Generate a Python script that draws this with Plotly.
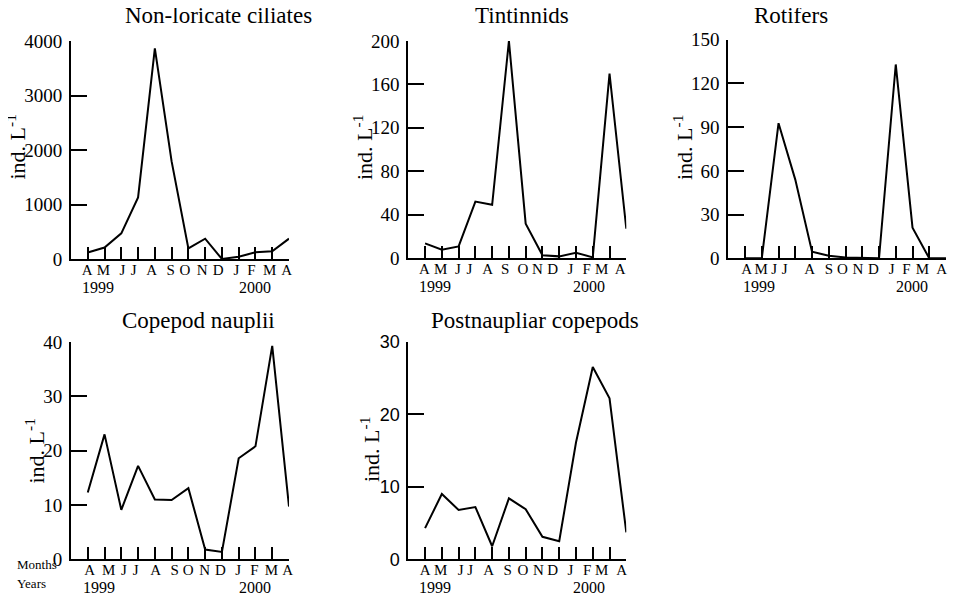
import plotly.graph_objects as go

# ---------------- data ----------------
months = ["A", "M", "J", "J", "A", "S", "O", "N", "D", "J", "F", "M", "A"]
x_idx = list(range(13))
year_labels = ["1999", "2000"]

titles = ["Non-loricate ciliates", "Tintinnids", "Rotifers",
          "Copepod nauplii", "Postnaupliar copepods"]
y_title = "ind. L<sup>-1</sup>"

ciliates = [120, 210, 471, 1131, 3866, 1790, 196, 373, 0, 43, 122, 141, 373]
tintinnids = [13.5, 7.7, 10.7, 52, 49, 200, 31.6, 2.5, 1.5, 4.9, 0.6, 170, 27]
rotifers = [0, 0, 92.7, 54, 4.5, 1.7, 0.5, 0, 0, 133, 21, 0, 0]
nauplii = [12.3, 23, 9.1, 17.2, 11.0, 10.9, 13.1, 1.8, 1.35, 18.6, 20.8, 39.3, 9.7]
postnaupliar = [4.3, 9.0, 6.8, 7.2, 1.8, 8.4, 6.9, 3.1, 2.5, 16.1, 26.5, 22.2, 3.7]

series = [ciliates, tintinnids, rotifers, nauplii, postnaupliar]
y_ticks = [[0, 1000, 2000, 3000, 4000],
           [0, 40, 80, 120, 160, 200],
           [0, 30, 60, 90, 120, 150],
           [0, 10, 20, 30, 40],
           [0, 10, 20, 30]]

# ---------------- layout helpers ----------------
OFF = 8                      # page body margin of the html output
W, H = 962 - OFF, 598 - OFF  # figure size so that it fits the window
SERIF = "Liberation Serif"
SANS = "Liberation Sans"


def px_x(p):
    return (p - OFF) / W


def px_y(p):
    return 1 - (p - OFF) / H


# pixel boxes in window coordinates (left, right, top, bottom)
boxes = [(71, 289, 41, 259),
         (408.3, 626.3, 41, 258),
         (728.3, 946, 39.7, 258.3),
         (71, 289, 342, 559.3),
         (408.3, 626.3, 341.7, 559.3)]
title_pos = [(218, 15), (521.7, 15), (790.8, 15), (198.3, 320), (534.7, 320)]
ytitle_pos = [(15, 147.5), (362.5, 147.5), (682.5, 147.5), (34.5, 451), (370, 450)]
year_x = [(0.61, 9.97), (0.59, 9.8), (0.85, 9.95), (0.68, 9.97), (0.59, 9.8)]
# horizontal drift (px) of the typed month letters relative to their ticks
label_shift = [[0, 0, 3, -2, 0, 3, 1, 2, 2, 4, 3, 5, 6],
               [0, 0, 1.3, -3.7, -1.3, 0, 1.7, 0, -1, 0.7, 0.7, -0.3, 2],
               [2.3, 0.7, -2.7, -8.5, 0.7, 4, 1.3, 0.7, 0, 2.3, 0.7, 0.7, 4],
               [2.7, 5.7, 4.7, 0, 4, 7, 4.3, 4.7, 4.3, 6, 6, 7, 7],
               [0.7, 0, 4, -2.7, -0.3, 2.7, 1.7, 1, -1, 0.7, 1.3, -0.3, 3.7]]
tick_fonts = [SERIF, SERIF, SERIF, SERIF, SANS]

fig = go.Figure()
annotations = []

for i, (vals, box) in enumerate(zip(series, boxes)):
    n = "" if i == 0 else str(i + 1)
    m = str(i + 6)
    xa, ya, xm = "x" + n, "y" + n, "x" + m
    l, r, t, b = box
    step = (r - l) / 13.0
    # invisible companion trace so that the month-label axis is drawn
    fig.add_trace(go.Scatter(x=x_idx, y=vals, mode="lines",
                             line=dict(color="rgba(0,0,0,0)", width=0),
                             xaxis=xm, yaxis=ya, showlegend=False,
                             hoverinfo="skip"))
    fig.add_trace(go.Scatter(x=x_idx, y=vals, mode="lines",
                             line=dict(color="black", width=2),
                             xaxis=xa, yaxis=ya, showlegend=False,
                             hoverinfo="skip"))
    common = dict(anchor=ya, showgrid=False, zeroline=False,
                  automargin=False, fixedrange=True)
    fig.layout["xaxis" + n] = dict(
        **common, domain=[px_x(l), px_x(r)], range=[-1, 12],
        tickmode="array", tickvals=x_idx, showticklabels=False,
        ticks="inside", ticklen=12, tickwidth=2, tickcolor="black",
        showline=True, linewidth=2, linecolor="black")
    # label axis: same scale, extended half a step to the right
    fig.layout["xaxis" + m] = dict(
        **common, domain=[px_x(l), px_x(r + step / 2)], range=[-1, 12.5],
        overlaying=xa, side="bottom",
        tickmode="array",
        tickvals=[k + s / step for k, s in zip(x_idx, label_shift[i])],
        ticktext=months, ticks="", showline=False,
        ticklabelstandoff=0,
        tickfont=dict(family=SERIF, size=15, color="black"))
    yt = y_ticks[i]
    fig.layout["yaxis" + n] = dict(
        domain=[px_y(b), px_y(t)], anchor=xa, range=[0, yt[-1]],
        tickmode="array", tickvals=yt,
        ticks="inside", ticklen=16, tickwidth=2, tickcolor="black",
        showline=True, linewidth=2, linecolor="black",
        showgrid=False, zeroline=False, automargin=False,
        ticklabelstandoff=3,
        tickfont=dict(family=tick_fonts[i], size=19 if i < 4 else 18, color="black"),
        fixedrange=True)
    tx, ty = title_pos[i]
    annotations.append(dict(text=titles[i], x=px_x(tx), y=px_y(ty),
                            xref="paper", yref="paper", showarrow=False,
                            xanchor="center", yanchor="middle",
                            font=dict(family=SERIF, size=23, color="black")))
    yx, yy = ytitle_pos[i]
    annotations.append(dict(text=y_title, x=px_x(yx), y=px_y(yy), textangle=-90,
                            xref="paper", yref="paper", showarrow=False,
                            xanchor="center", yanchor="middle",
                            font=dict(family=SERIF, size=22, color="black")))
    for yl, yxv in zip(year_labels, year_x[i]):
        annotations.append(dict(text=yl, x=yxv, y=px_y(b + 28),
                                xref=xa, yref="paper", showarrow=False,
                                xanchor="center", yanchor="middle",
                                font=dict(family=SERIF, size=16, color="black")))

annotations.append(dict(text="Months", x=px_x(15), y=px_y(564), xref="paper", yref="paper",
                        showarrow=False, xanchor="left", yanchor="middle",
                        font=dict(family=SERIF, size=13, color="black")))
annotations.append(dict(text="Years", x=px_x(15), y=px_y(583), xref="paper", yref="paper",
                        showarrow=False, xanchor="left", yanchor="middle",
                        font=dict(family=SERIF, size=13, color="black")))

fig.update_layout(width=W, height=H, margin=dict(l=0, r=0, t=0, b=0, autoexpand=False),
                  paper_bgcolor="white", plot_bgcolor="white",
                  font=dict(family=SERIF, color="black"),
                  annotations=annotations)

fig.write_html("out.html")
